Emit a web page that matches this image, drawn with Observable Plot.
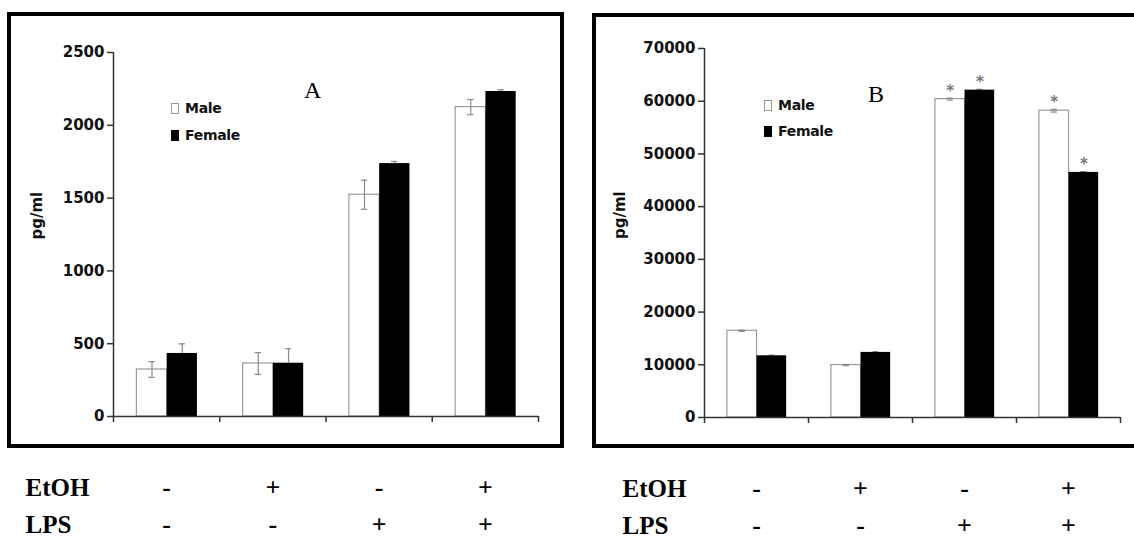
<!DOCTYPE html>
<html>
<head>
<meta charset="utf-8">
<script src="https://cdn.jsdelivr.net/npm/d3@7"></script>
<script src="https://cdn.jsdelivr.net/npm/@observablehq/plot@0.6"></script>
<style>
  body { margin: 0; background: #fff; }
  #fig { position: relative; width: 1134px; height: 539px; overflow: hidden; background: #fff; }
  .panel { position: absolute; top: 0; height: 539px; }
  .panel svg { display: block; }
  .frame { position: absolute; border: 4.5px solid #000; box-sizing: border-box; pointer-events: none; }
  .legend { position: absolute; font: bold 14px "DejaVu Sans", sans-serif; color: #111; letter-spacing: -0.3px; }
  .legend .row { display: flex; align-items: center; height: 14px; line-height: 14px; }
  .swatch { display: inline-block; width: 8px; height: 11px; margin-right: 6px; box-sizing: border-box; }
  .letter { position: absolute; font: 24px "Liberation Serif", serif; line-height: 24px; color: #000; }
</style>
</head>
<body>
<div id="fig"></div>
<script>
// Treatment conditions for the four groups
const etoh = ["-", "+", "-", "+"];
const lps  = ["-", "-", "+", "+"];
const rowLabels = ["EtOH", "LPS"];
const sexes = ["Male", "Female"];

// Panel A (pg/ml): means and error bars
const maleA      = [323, 364, 1523, 2125];
const maleAErr   = [54, 75, 100, 52];
const femaleA    = [433, 366, 1737, 2232];
const femaleAErr = [66, 100, 15, 12];
const yTicksA    = [0, 500, 1000, 1500, 2000, 2500];

// Panel B (pg/ml): means, error bars and significance marks
const maleB      = [16450, 9950, 60400, 58200];
const maleBErr   = [120, 100, 180, 250];
const femaleB    = [11700, 12350, 62100, 46500];
const femaleBErr = [120, 120, 150, 150];
const maleBSig   = [false, false, true, true];
const femaleBSig = [false, false, true, true];
const yTicksB    = [0, 10000, 20000, 30000, 40000, 50000, 60000, 70000];

// within each group slot: male bar spans [L, M], female bar spans [M, R]
const L = 0.22, M = 0.505, R = 0.79;
const CAP = 0.03;
const AXIS = "#333", ERR = "#8a8a8a";
const SERIF = "Liberation Serif, Times New Roman, serif";

function drawPanel(cfg) {
  const rows = etoh.map((e, i) => ({
    i, etoh: e, lps: lps[i],
    male: cfg.male[i], maleErr: cfg.maleErr[i],
    female: cfg.female[i], femaleErr: cfg.femaleErr[i],
    maleSig: cfg.maleSig ? cfg.maleSig[i] : false,
    femaleSig: cfg.femaleSig ? cfg.femaleSig[i] : false
  }));
  const mMid = d => d.i + (L + M) / 2;
  const fMid = d => d.i + (M + R) / 2;
  const bounds = d3.range(etoh.length + 1);
  const labelText = { fontFamily: SERIF, fontSize: 25, fontWeight: "bold", fill: "#000", lineAnchor: "bottom" };
  const signText = { fontFamily: SERIF, fontSize: 26, fontWeight: "bold", fill: "#000", lineAnchor: "bottom" };

  return Plot.plot({
    width: cfg.width,
    height: 539,
    marginLeft: cfg.marginLeft,
    marginRight: cfg.marginRight,
    marginTop: cfg.marginTop,
    marginBottom: cfg.marginBottom,
    style: { fontFamily: "DejaVu Sans, sans-serif", fontSize: "15px", fontWeight: "bold", color: "#111", background: "transparent" },
    x: { domain: [0, etoh.length] },
    y: { domain: [0, cfg.ticks[cfg.ticks.length - 1]] },
    marks: [
      // female error bars: only the upper half shows above the black bar
      Plot.ruleX(rows, { x: fMid, y1: "female", y2: d => d.female + d.femaleErr, stroke: ERR, strokeWidth: 1.2 }),
      Plot.ruleY(rows, { y: d => d.female + d.femaleErr, x1: d => fMid(d) - CAP, x2: d => fMid(d) + CAP, stroke: ERR, strokeWidth: 1.2 }),
      // bars
      Plot.rect(rows, { x1: d => d.i + L, x2: d => d.i + M, y1: 0, y2: "male", fill: "#fff", stroke: "#9a9a9a", strokeWidth: 1.2 }),
      Plot.rect(rows, { x1: d => d.i + M, x2: d => d.i + R, y1: 0, y2: "female", fill: "#000" }),
      // male error bars
      Plot.ruleX(rows, { x: mMid, y1: d => d.male - d.maleErr, y2: d => d.male + d.maleErr, stroke: ERR, strokeWidth: 1.2 }),
      Plot.ruleY(rows, { y: d => d.male + d.maleErr, x1: d => mMid(d) - CAP, x2: d => mMid(d) + CAP, stroke: ERR, strokeWidth: 1.2 }),
      Plot.ruleY(rows, { y: d => d.male - d.maleErr, x1: d => mMid(d) - CAP, x2: d => mMid(d) + CAP, stroke: ERR, strokeWidth: 1.2 }),
      // significance asterisks
      Plot.text(rows.filter(d => d.maleSig), { x: mMid, y: d => d.male + d.maleErr, text: () => "*", dy: -7, fill: "#777", fontSize: 15, fontWeight: "bold" }),
      Plot.text(rows.filter(d => d.femaleSig), { x: fMid, y: d => d.female + d.femaleErr, text: () => "*", dy: -7, fill: "#777", fontSize: 15, fontWeight: "bold" }),
      // axes
      Plot.ruleX([0], { stroke: AXIS, strokeWidth: 1.5 }),
      Plot.ruleY([0], { stroke: AXIS, strokeWidth: 1.5 }),
      Plot.axisY({ ticks: cfg.ticks, tickSize: 6, tickPadding: 3, tickFormat: "d", label: null, stroke: AXIS, strokeWidth: 1.5, fill: "#111", fontSize: 15, fontWeight: "bold", fontFamily: "DejaVu Sans, sans-serif" }),
      Plot.axisX({ ticks: bounds, tickSize: 6, tickFormat: () => "", label: null, stroke: AXIS, strokeWidth: 1.5 }),
      // y label
      Plot.text(["pg/ml"], { frameAnchor: "left", text: d => d, rotate: -90, dx: cfg.ylabelDx, dy: cfg.ylabelDy, fontSize: 15, fontWeight: "bold", fill: "#111" }),
      // treatment table under the frame
      Plot.text([rowLabels[0]], { ...labelText, frameAnchor: "bottom-left", text: d => d, dx: cfg.rowDx, dy: 79, textAnchor: "start" }),
      Plot.text([rowLabels[1]], { ...labelText, frameAnchor: "bottom-left", text: d => d, dx: cfg.rowDx, dy: 116, textAnchor: "start" }),
      Plot.text(rows, { ...signText, x: d => d.i + 0.5, frameAnchor: "bottom", text: "etoh", dy: 79 }),
      Plot.text(rows, { ...signText, x: d => d.i + 0.5, frameAnchor: "bottom", text: "lps", dy: 116 })
    ]
  });
}

function legend(left, top, gap) {
  const el = document.createElement("div");
  el.className = "legend";
  el.style.left = left + "px";
  el.style.top = top + "px";
  sexes.forEach((s, k) => {
    const row = document.createElement("div");
    row.className = "row";
    if (k) row.style.marginTop = (gap - 14) + "px";
    const sw = document.createElement("span");
    sw.className = "swatch";
    sw.style.background = k ? "#000" : "#fff";
    sw.style.border = k ? "none" : "1px solid #9a9a9a";
    row.appendChild(sw);
    row.appendChild(document.createTextNode(s));
    el.appendChild(row);
  });
  return el;
}

function addPanel(fig, cfg) {
  const wrap = document.createElement("div");
  wrap.className = "panel";
  wrap.style.left = cfg.left + "px";
  wrap.style.width = cfg.width + "px";
  wrap.appendChild(drawPanel(cfg));
  fig.appendChild(wrap);

  const frame = document.createElement("div");
  frame.className = "frame";
  Object.assign(frame.style, cfg.frame);
  fig.appendChild(frame);

  fig.appendChild(legend(cfg.legend[0], cfg.legend[1], cfg.legend[2]));

  const letter = document.createElement("div");
  letter.className = "letter";
  letter.textContent = cfg.letter;
  letter.style.left = cfg.letterPos[0] + "px";
  letter.style.top = cfg.letterPos[1] + "px";
  fig.appendChild(letter);
}

const fig = document.getElementById("fig");

addPanel(fig, {
  left: 0, width: 570,
  marginLeft: 113, marginRight: 32, marginTop: 52, marginBottom: 123,
  male: maleA, maleErr: maleAErr, female: femaleA, femaleErr: femaleAErr,
  ticks: yTicksA,
  ylabelDx: -76, ylabelDy: 5, rowDx: -88,
  frame: { left: "7px", top: "12px", width: "557px", height: "436px" },
  legend: [171, 101, 27],
  letter: "A", letterPos: [304, 78]
});

addPanel(fig, {
  left: 570, width: 564,
  marginLeft: 134, marginRight: 14, marginTop: 48, marginBottom: 122,
  male: maleB, maleErr: maleBErr, female: femaleB, femaleErr: femaleBErr,
  maleSig: maleBSig, femaleSig: femaleBSig,
  ticks: yTicksB,
  ylabelDx: -84, ylabelDy: 6, rowDx: -82,
  frame: { left: "592px", top: "13px", width: "560px", height: "435px" },
  legend: [764, 98, 26],
  letter: "B", letterPos: [868, 82]
});
</script>
</body>
</html>
